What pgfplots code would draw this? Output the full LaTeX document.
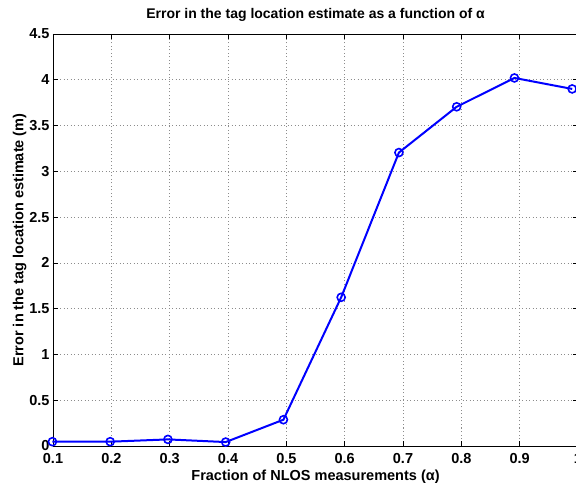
\documentclass[border=0pt]{standalone}
\usepackage{fontspec}
\setmainfont{Liberation Sans}
\usepackage{pgfplots}
\pgfplotsset{compat=1.18}
\definecolor{mblue}{RGB}{0,0,255}

\begin{document}
\begin{tikzpicture}
\begin{axis}[
  scale only axis, width=525pt, height=412pt,
  xmin=0.1, xmax=1.0, ymin=0, ymax=4.5,
  xtick={0.1,0.2,...,1.0}, ytick={0,0.5,...,4.5},
  xticklabels={0.1,0.2,0.3,0.4,0.5,0.6,0.7,0.8,0.9,1},
  yticklabels={0,0.5,1,1.5,2,2.5,3,3.5,4,4.5},
  tick align=inside, major tick length=5pt,
  grid=major, grid style={black!45, dash pattern=on 1pt off 2.5pt, line width=0.6pt},
  axis line style={line width=0.7pt}, tick style={black, line width=0.7pt},
  tick label style={font=\fontsize{14.5}{16}\selectfont\bfseries},
  /pgf/number format/assume math mode=true,
  xticklabel style={yshift=-4pt},
  yticklabel style={xshift=0pt},
  xlabel={Fraction of NLOS measurements (α)},
  ylabel={Error in the tag location estimate (m)},
  label style={font=\fontsize{14.5}{16}\selectfont\bfseries},
  xlabel style={yshift=1pt}, ylabel style={yshift=-4pt},
  title={Error in the tag location estimate as a function of α},
  title style={font=\fontsize{14}{16}\selectfont\bfseries, yshift=3pt},
  clip=false,
]
\addplot[mblue, line width=2pt, mark=o, mark size=4pt, mark options={line width=1.6pt}]
  coordinates {(0.099,0.047)(0.198,0.047)(0.297,0.072)(0.396,0.043)(0.495,0.287)
               (0.594,1.624)(0.693,3.205)(0.792,3.705)(0.891,4.02)(0.99,3.90)};
\end{axis}
\pgfresetboundingbox
\path ([xshift=-53pt,yshift=34pt]current axis.north west) rectangle ([xshift=-2pt,yshift=-37pt]current axis.south east);
\end{tikzpicture}
\end{document}
